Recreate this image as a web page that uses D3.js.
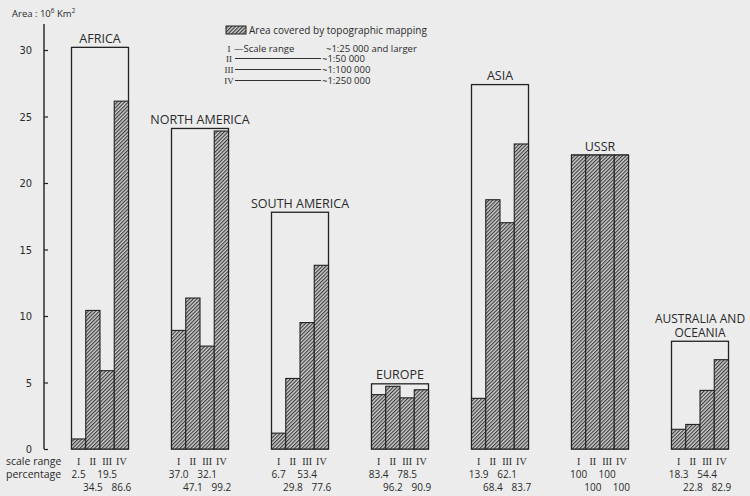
<!DOCTYPE html>
<html>
<head>
<meta charset="utf-8">
<script src="https://cdn.jsdelivr.net/npm/d3@7"></script>
<style>
  html, body { margin: 0; padding: 0; background: #ececec; }
  svg { display: block; }
  text { fill: #2a2a2a; }
</style>
</head>
<body>
<svg id="chart" width="750" height="496"></svg>
<script>
// Continents and their total area (10^6 km²)
const continents = ["AFRICA", "NORTH AMERICA", "SOUTH AMERICA", "EUROPE", "ASIA", "USSR", "AUSTRALIA AND\nOCEANIA"];
const totalArea = [30.2, 24.1, 17.8, 4.9, 27.4, 22.1, 8.1];

// Scale ranges of the topographic maps
const scaleRanges = ["I", "II", "III", "IV"];

// Percentage of each continent covered, per scale range
const pctScaleI   = [2.5, 37.0, 6.7, 83.4, 13.9, 100, 18.3];
const pctScaleII  = [34.5, 47.1, 29.8, 96.2, 68.4, 100, 22.8];
const pctScaleIII = [19.5, 32.1, 53.4, 78.5, 62.1, 100, 54.4];
const pctScaleIV  = [86.6, 99.2, 77.6, 90.9, 83.7, 100, 82.9];

const yTicks = [0, 5, 10, 15, 20, 25, 30];

const legendTitle = "Area covered by topographic mapping";
const legendScales = ["~1:25 000 and larger", "~1:50 000", "~1:100 000", "~1:250 000"];

const pctBySeries = [pctScaleI, pctScaleII, pctScaleIII, pctScaleIV];
const rows = continents.map((c, i) => ({
  name: c,
  total: totalArea[i],
  bars: scaleRanges.map((s, k) => ({ scale: s, pct: pctBySeries[k][i], value: totalArea[i] * pctBySeries[k][i] / 100 }))
}));

const svg = d3.select("#chart");
const sans = "'Open Sans', 'DejaVu Sans', sans-serif";
const serif = "'Liberation Serif', 'DejaVu Serif', serif";
const narrow = "'Liberation Sans Narrow', 'DejaVu Sans Condensed', sans-serif";
const ink = "#222";

// Hatch pattern for covered area
const defs = svg.append("defs");
const pat = defs.append("pattern")
  .attr("id", "hatch")
  .attr("patternUnits", "userSpaceOnUse")
  .attr("width", 2.6).attr("height", 2.6)
  .attr("patternTransform", "rotate(45)");
pat.append("rect").attr("width", 2.6).attr("height", 2.6).attr("fill", "#cfcfcf");
pat.append("line").attr("x1", 0.6).attr("y1", 0).attr("x2", 0.6).attr("y2", 2.6)
  .attr("stroke", "#2e2e2e").attr("stroke-width", 1.05);

// Scales
const y = d3.scaleLinear().domain([0, 30]).range([449, 50]);
const x = d3.scaleBand().domain(continents).range([50, 750]).paddingInner(0.43).paddingOuter(0.215);
const xs = d3.scaleBand().domain(scaleRanges).range([0, x.bandwidth()]);

// Y axis
const axisX = 44;
const yAxis = svg.append("g").attr("transform", `translate(${axisX},0)`)
  .call(d3.axisLeft(y).tickValues(yTicks).tickSize(-4).tickPadding(12).tickFormat(d3.format("d")));
yAxis.select(".domain").remove();
yAxis.selectAll(".tick line").attr("stroke", ink).attr("stroke-width", 1.2);
yAxis.selectAll(".tick text").attr("font-family", narrow).attr("font-size", 11).attr("fill", "#2a2a2a");
svg.append("line").attr("x1", axisX).attr("x2", axisX).attr("y1", 24).attr("y2", y(0))
  .attr("stroke", ink).attr("stroke-width", 1.4);

// Axis title: Area : 10^6 Km^2
const yTitle = svg.append("text").attr("x", 12).attr("y", 17).attr("font-family", sans).attr("font-size", 9.5);
yTitle.append("tspan").text("Area : 10");
yTitle.append("tspan").attr("dy", -4).attr("font-size", 6.5).text("6");
yTitle.append("tspan").attr("dy", 4).text(" Km");
yTitle.append("tspan").attr("dy", -4).attr("font-size", 6.5).text("2");

// Continent groups
const groups = svg.selectAll("g.continent").data(rows).join("g")
  .attr("class", "continent")
  .attr("transform", d => `translate(${x(d.name)},0)`);

// Total-area outline box
groups.append("rect")
  .attr("x", 0).attr("y", d => y(d.total))
  .attr("width", x.bandwidth()).attr("height", d => y(0) - y(d.total))
  .attr("fill", "none").attr("stroke", ink).attr("stroke-width", 1.3);

// Covered-area bars
groups.selectAll("rect.bar").data(d => d.bars).join("rect")
  .attr("class", "bar")
  .attr("x", b => xs(b.scale)).attr("y", b => y(b.value))
  .attr("width", xs.bandwidth()).attr("height", b => y(0) - y(b.value))
  .attr("fill", "url(#hatch)").attr("stroke", ink).attr("stroke-width", 1.1);

// Continent titles
groups.each(function(d) {
  const lines = d.name.split("\n");
  const g = d3.select(this);
  const base = y(d.total) - 4.5;
  lines.forEach((ln, i) => {
    g.append("text")
      .attr("x", x.bandwidth() / 2)
      .attr("y", base - (lines.length - 1 - i) * 13.5)
      .attr("text-anchor", "middle")
      .attr("font-family", sans).attr("font-size", lines.length > 1 ? 12 : 12.5)
      .attr("fill", "#333")
      .text(ln);
  });
});

// Scale-range numerals and percentages under each bar
groups.selectAll("text.sr").data(d => d.bars).join("text")
  .attr("class", "sr")
  .attr("x", b => xs(b.scale) + xs.bandwidth() / 2).attr("y", 465)
  .attr("text-anchor", "middle").attr("font-family", serif).attr("font-size", 10)
  .text(b => b.scale);
groups.selectAll("text.pct").data(d => d.bars).join("text")
  .attr("class", "pct")
  .attr("x", b => xs(b.scale) + xs.bandwidth() / 2)
  .attr("y", (b, k) => k % 2 === 0 ? 478 : 491)
  .attr("text-anchor", "middle").attr("font-family", sans).attr("font-size", 10)
  .text(b => b.pct === 100 ? "100" : b.pct.toFixed(1));

svg.append("text").attr("x", 6).attr("y", 465).attr("font-family", sans).attr("font-size", 10.5).text("scale range");
svg.append("text").attr("x", 6).attr("y", 478).attr("font-family", sans).attr("font-size", 10.5).text("percentage");

// Legend
const lg = svg.append("g");
lg.append("rect").attr("x", 226).attr("y", 26).attr("width", 20).attr("height", 8)
  .attr("fill", "url(#hatch)").attr("stroke", ink).attr("stroke-width", 1);
lg.append("text").attr("x", 249).attr("y", 34).attr("font-family", sans).attr("font-size", 10).text(legendTitle);

const rowY = [51.5, 62, 73, 84];
scaleRanges.forEach((s, k) => {
  lg.append("text").attr("x", 229).attr("y", rowY[k]).attr("text-anchor", "middle")
    .attr("font-family", serif).attr("font-size", 9).text(s);
  if (k === 0) {
    lg.append("text").attr("x", 234).attr("y", rowY[k]).attr("font-family", sans).attr("font-size", 9.5).text("—Scale range");
    lg.append("text").attr("x", 326).attr("y", rowY[k]).attr("font-family", sans).attr("font-size", 9.5).text(legendScales[k]);
  } else {
    lg.append("line").attr("x1", 235).attr("x2", 321).attr("y1", rowY[k] - 3.5).attr("y2", rowY[k] - 3.5)
      .attr("stroke", "#333").attr("stroke-width", 1);
    lg.append("text").attr("x", 322).attr("y", rowY[k]).attr("font-family", sans).attr("font-size", 9.5).text(legendScales[k]);
  }
});
</script>
</body>
</html>
